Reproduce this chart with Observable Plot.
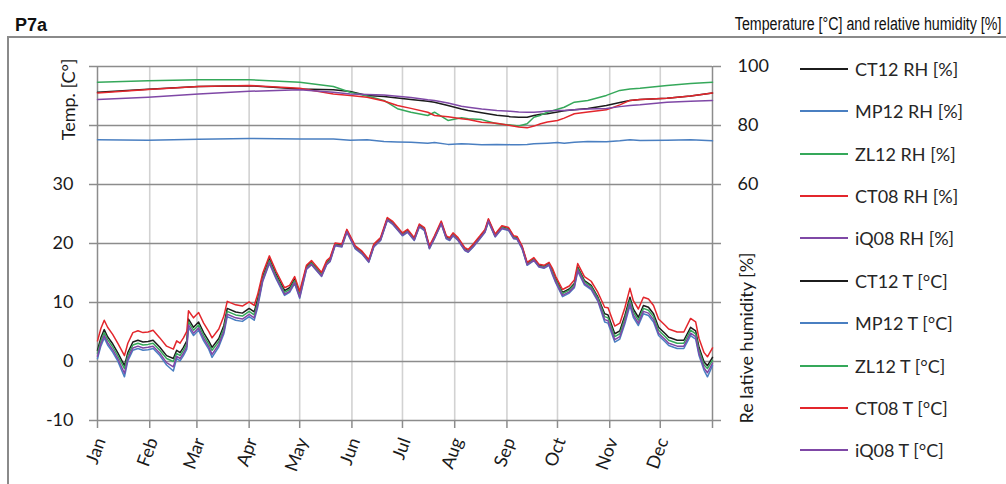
<!DOCTYPE html>
<html>
<head>
<meta charset="utf-8">
<script src="https://cdn.jsdelivr.net/npm/d3@7"></script>
<script src="https://cdn.jsdelivr.net/npm/@observablehq/plot@0.6"></script>
<style>
  body { margin: 0; width: 1006px; height: 484px; position: relative; overflow: hidden; background: #fff; }
  #t1 { position: absolute; left: 15px; top: 16px; font: bold 18px/18px "Liberation Sans", Arial, sans-serif; color: #111; }
  #t2 { position: absolute; right: 5px; top: 15px; font: 18px/18px "Liberation Sans", Arial, sans-serif; color: #111; white-space: nowrap; transform: scaleX(0.79); transform-origin: right center; }
  #box { position: absolute; left: 7px; top: 36px; width: 999px; height: 448px; border-top: 2px solid #8a8a8a; border-left: 2px solid #8a8a8a; box-sizing: border-box; }
  #chart { position: absolute; left: 9px; top: 38px; }
  #legend { position: absolute; left: 0; top: 0; }
  .row { position: absolute; left: 800px; height: 20px; display: flex; align-items: center; font: 18px Lato, sans-serif; color: #262626; white-space: nowrap; }
  .sw { width: 48px; height: 2px; margin-right: 7px; }
</style>
</head>
<body>
<div id="t1">P7a</div>
<div id="t2">Temperature [°C] and relative humidity [%]</div>
<div id="box"></div>
<div id="chart"></div>
<div id="legend"></div>
<script>
// ---- data ----
const monthLabels = ["Jan","Feb","Mar","Apr","May","Jun","Jul","Aug","Sep","Oct","Nov","Dec"];
const monthStarts = [0,31,59,90,120,151,181,212,243,273,304,334];
const tempTicks = [-10,0,10,20,30,40,50];
const rhTickLabels = ["60","80","100"]; // at temperature-axis positions 30, 40, 50

const days = [0,2,4,6,9,12,16,18,21,24,27,30,33,37,41,45,47,49,51,53,54,57,60,63,66,68,72,75,77,82,86,90,93,95,98,102,106,111,114,117,120,124,127,133,136,138,141,145,148,153,157,161,164,168,172,175,181,184,188,191,194,197,200,204,207,209,211,214,218,220,223,227,230,232,236,240,244,247,249,252,255,259,262,265,268,270,272,276,280,283,285,289,293,297,301,303,307,310,313,316,318,321,324,327,330,333,337,339,344,348,352,355,357,360,362,365];

const ct12T = [1.9,4.0,5.4,4.2,3.0,1.5,-0.7,1.5,3.3,3.6,3.3,3.4,3.6,2.4,1.0,0.5,1.9,1.5,2.4,3.5,7.2,5.8,6.7,4.9,3.5,2.4,3.9,6.1,9.0,8.4,8.2,9.0,8.4,10.5,14.3,17.4,14.8,12.0,12.5,14.0,11.5,16.0,16.8,14.8,16.8,17.3,19.9,19.7,22.2,19.4,18.5,17.1,19.7,20.8,24.2,23.6,21.6,22.2,20.8,23.1,22.5,19.4,21.1,23.6,21.1,20.8,21.6,20.8,19.1,18.8,19.7,21.1,22.2,24.0,21.4,22.8,22.5,21.1,21.0,19.4,16.6,17.4,16.3,16.1,16.6,15.4,14.0,11.7,12.3,13.2,16.0,13.7,12.9,10.9,8.1,7.9,4.7,5.2,7.8,10.9,8.9,7.5,9.5,9.2,8.1,5.8,4.7,4.1,3.6,3.6,5.8,5.2,2.4,-0.1,-0.7,0.7];

const mp12T = [0.5,2.6,4.0,2.8,1.6,0.1,-2.6,0.1,1.9,2.2,1.9,2.0,2.2,1.0,-0.6,-1.6,0.5,0.1,1.0,2.1,5.8,4.4,5.3,3.5,2.1,0.7,2.5,4.7,7.6,7.0,6.8,7.6,7.0,9.1,13.5,16.6,14.0,11.2,11.7,13.2,10.7,15.6,16.4,14.4,16.4,16.9,19.6,19.4,21.9,19.1,18.2,16.8,19.4,20.5,23.9,23.3,21.3,21.9,20.5,22.8,22.2,19.1,20.8,23.3,20.8,20.5,21.3,20.5,18.8,18.5,19.4,20.8,21.9,23.7,21.1,22.5,22.2,20.8,20.7,19.1,16.3,17.1,16.0,15.8,16.3,14.7,13.3,11.0,11.6,12.5,15.3,13.0,12.2,10.2,6.7,6.5,3.3,3.8,6.4,9.5,7.5,6.1,8.1,7.8,6.7,4.4,3.3,2.7,2.2,2.2,4.4,3.8,1.0,-1.5,-2.6,-0.7];

const zl12T = [1.4,3.5,4.9,3.7,2.5,1.0,-1.2,1.0,2.8,3.1,2.8,2.9,3.1,1.9,0.5,0.0,1.4,1.0,1.9,3.0,6.7,5.3,6.2,4.4,3.0,1.9,3.4,5.6,8.5,7.9,7.7,8.5,7.9,10.0,14.0,17.1,14.5,11.7,12.2,13.7,11.2,15.9,16.7,14.7,16.7,17.2,19.8,19.6,22.1,19.3,18.4,17.0,19.6,20.7,24.1,23.5,21.5,22.1,20.7,23.0,22.4,19.3,21.0,23.5,21.0,20.7,21.5,20.7,19.0,18.7,19.6,21.0,22.1,23.9,21.3,22.7,22.4,21.0,20.9,19.3,16.5,17.3,16.2,16.0,16.5,15.2,13.8,11.5,12.1,13.0,15.8,13.5,12.7,10.7,7.6,7.4,4.2,4.7,7.3,10.4,8.4,7.0,9.0,8.7,7.6,5.3,4.2,3.6,3.1,3.1,5.3,4.7,1.9,-0.6,-1.2,0.2];

const ct08T = [3.5,5.6,7.0,5.8,4.6,3.1,1.0,3.1,4.9,5.2,4.9,5.0,5.3,4.0,2.6,2.1,3.5,3.1,4.0,5.1,8.6,7.4,8.3,6.5,5.1,4.0,5.5,7.7,10.2,9.6,9.4,10.1,9.5,11.3,14.9,17.9,15.3,12.5,12.9,14.4,11.9,16.3,17.1,15.1,17.1,17.6,20.1,19.9,22.4,19.6,18.7,17.3,19.9,21.0,24.4,23.8,21.8,22.4,21.0,23.3,22.7,19.6,21.3,23.8,21.3,21.0,21.8,21.0,19.3,19.0,19.9,21.3,22.4,24.2,21.6,23.0,22.7,21.3,21.2,19.6,16.8,17.6,16.5,16.3,16.8,15.8,14.4,12.2,12.8,13.8,16.6,14.4,13.6,11.7,9.2,9.1,6.0,6.5,9.1,12.4,10.3,8.9,10.9,10.6,9.5,7.2,6.1,5.5,5.0,5.0,7.3,6.7,3.9,1.5,0.8,2.3];

const iq08T = [0.9,3.0,4.4,3.2,2.0,0.5,-2.0,0.5,2.3,2.6,2.3,2.4,2.6,1.4,-0.2,-0.9,0.9,0.5,1.4,2.5,6.2,4.8,5.7,3.9,2.5,1.2,2.9,5.1,8.0,7.4,7.2,8.0,7.4,9.5,13.7,16.8,14.2,11.4,11.9,13.4,10.9,15.7,16.5,14.5,16.5,17.0,19.7,19.5,22.0,19.2,18.3,16.9,19.5,20.6,24.0,23.4,21.4,22.0,20.6,22.9,22.3,19.2,20.9,23.4,20.9,20.6,21.4,20.6,18.9,18.6,19.5,20.9,22.0,23.8,21.2,22.6,22.3,20.9,20.8,19.2,16.4,17.2,16.1,15.9,16.4,14.9,13.5,11.2,11.8,12.7,15.5,13.2,12.4,10.4,7.1,6.9,3.7,4.2,6.8,9.9,7.9,6.5,8.5,8.2,7.1,4.8,3.7,3.1,2.6,2.6,4.8,4.2,1.4,-1.1,-1.9,-0.3];

const rhDays = [0,30,60,90,120,140,150,160,170,178,186,196,200,208,216,220,228,237,245,250,255,259,263,267,273,277,283,291,302,310,316,322,338,352,365];
const ct12RH = [91.3,92.3,93.2,93.5,92.4,92.1,91.5,90.2,89.8,89.3,88.8,88.2,87.9,86.8,85.6,85.1,84.3,83.5,83.0,82.8,82.8,83.4,83.8,84.0,84.6,85.0,85.3,85.8,86.8,87.8,88.5,88.8,89.2,90.0,91.0];
const mp12RH = [75.2,75.0,75.3,75.6,75.4,75.4,75.0,75.2,74.6,74.4,74.3,74.0,74.2,73.6,73.8,73.7,73.5,73.6,73.5,73.5,73.6,73.8,73.9,74.0,74.2,74.0,74.3,74.6,74.5,74.8,75.2,74.9,75.0,75.2,74.8];
const zl12RH = [94.7,95.2,95.5,95.5,94.7,93.2,91.3,90.0,88.5,85.7,84.5,83.4,84.5,81.7,82.6,82.3,82.0,80.6,80.2,79.8,80.6,82.8,83.5,84.5,85.5,86.2,87.9,88.5,90.2,91.9,92.4,92.6,93.6,94.2,94.7];
const ct08RH = [91.0,92.2,93.2,93.6,92.6,90.7,90.2,89.6,88.3,86.8,85.8,84.5,83.4,83.0,82.3,82.0,81.1,80.8,80.0,79.5,79.2,79.8,80.6,81.2,81.7,82.5,84.0,84.6,85.3,87.0,88.5,88.8,89.2,90.0,91.0];
const iq08RH = [88.8,89.6,90.7,91.6,92.1,91.3,90.7,90.5,90.3,89.9,89.5,88.7,88.5,87.6,86.5,86.2,85.6,85.1,84.8,84.6,84.5,84.5,84.7,84.9,85.1,85.1,85.3,85.6,85.8,86.4,86.8,87.0,87.9,88.2,88.5];

const seriesNames = ["CT12 RH [%]","MP12 RH [%]","ZL12 RH [%]","CT08 RH [%]","iQ08 RH [%]","CT12 T [°C]","MP12 T [°C]","ZL12 T [°C]","CT08 T [°C]","iQ08 T [°C]"];
const seriesColors = ["#1c1c1c","#4a7fc1","#35a85a","#e3262c","#7f48a6","#1c1c1c","#4a7fc1","#35a85a","#e3262c","#7f48a6"];

// ---- build tables ----
const rhSeries = [ct12RH, mp12RH, zl12RH, ct08RH, iq08RH];
const tSeries = [ct12T, mp12T, zl12T, ct08T, iq08T];
// relative humidity is drawn against the secondary axis: 60 % ↔ 30 °C, 100 % ↔ 50 °C
const rhToT = rh => 30 + (rh - 60) / 2;
const tables = [
  ...rhSeries.map(arr => arr.map((v, i) => ({day: rhDays[i], y: rhToT(v)}))),
  ...tSeries.map(arr => arr.map((v, i) => ({day: days[i], y: v})))
];

const chart = Plot.plot({
  width: 997,
  height: 446,
  marginLeft: 88,
  marginRight: 294,
  marginTop: 28,
  marginBottom: 64,
  style: {fontFamily: "Lato, sans-serif", fontSize: "18px", color: "#1a1a1a", background: "transparent"},
  x: {domain: [0, 365]},
  y: {domain: [-10, 50]},
  marks: [
    Plot.gridX(monthStarts.slice(1), {stroke: "#d2d2d2", strokeOpacity: 1, strokeWidth: 1.6}),
    Plot.gridY(tempTicks, {stroke: "#8c8c8c", strokeOpacity: 1, strokeWidth: 1.5}),
    Plot.ruleX([0], {stroke: "#8c8c8c", strokeWidth: 1.5}),
    Plot.ruleX([365], {stroke: "#8c8c8c", strokeWidth: 1.5}),
    Plot.axisY(tempTicks, {anchor: "left", tickSize: 8, tickPadding: 16, stroke: "#8c8c8c", strokeWidth: 1.5,
      tickFormat: t => t <= 30 ? String(t) : "", label: null}),
    Plot.axisY(tempTicks, {anchor: "right", tickSize: 8, tickPadding: 17, stroke: "#8c8c8c", strokeWidth: 1.5,
      tickFormat: t => t >= 30 ? rhTickLabels[(t - 30) / 10] : "", label: null}),
    // tick marks at month boundaries
    Plot.axisX([...monthStarts, 365], {anchor: "bottom", tickSize: 8, stroke: "#8c8c8c", strokeWidth: 1.5,
      tickFormat: () => "", label: null}),
    // rotated month labels
    Plot.axisX(monthStarts, {anchor: "bottom", tickSize: 0, tickPadding: 18, tickRotate: -70, dx: 3,
      tickFormat: (d, i) => monthLabels[i], label: null}),
    ...tables.map((tbl, k) => Plot.line(tbl, {x: "day", y: "y", stroke: seriesColors[k], strokeWidth: 1.5})),
    Plot.text(["Temp. [C°]"], {text: d => d, frameAnchor: "top-left", rotate: -90, textAnchor: "end", dx: -35, dy: -8, fontSize: 18, fill: "#1a1a1a"}),
    Plot.text(["Re lative humidity [%]"], {text: d => d, frameAnchor: "bottom-right", rotate: -90, textAnchor: "start", dx: 40, dy: 3, fontSize: 18, fill: "#1a1a1a"})
  ]
});
document.getElementById("chart").appendChild(chart);

// ---- legend ----
const legend = document.getElementById("legend");
seriesNames.forEach((name, i) => {
  const row = document.createElement("div");
  row.className = "row";
  row.style.top = Math.round(58.7 + 42.4 * i) + "px";
  const sw = document.createElement("div");
  sw.className = "sw";
  sw.style.background = seriesColors[i];
  const tx = document.createElement("span");
  tx.textContent = name;
  row.appendChild(sw);
  row.appendChild(tx);
  legend.appendChild(row);
});
</script>
</body>
</html>
